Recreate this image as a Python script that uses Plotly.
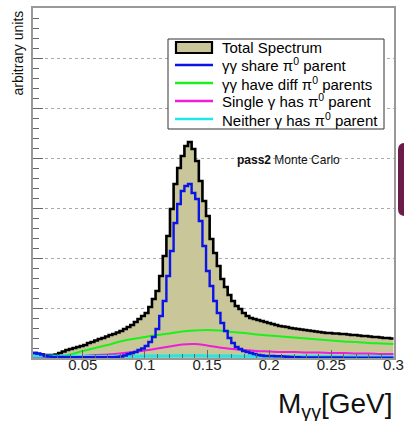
import numpy as np
import plotly.graph_objects as go

# Diphoton invariant mass histogram: 100 bins on [0.01, 0.30] GeV
M_LO, M_HI, N_BINS = 0.01, 0.30, 100

total_spectrum = [
    50, 40, 35, 30, 30, 30, 35, 50, 65, 80,
    90, 100, 110, 120, 130, 150, 160, 175, 190, 200,
    215, 230, 240, 255, 270, 290, 310, 330, 360, 390,
    420, 450, 510, 590, 670, 820, 1020, 1220, 1490, 1740,
    1900, 2020, 2120, 2160, 2090, 1970, 1770, 1570, 1420, 1190,
    1050, 920, 790, 710, 630, 570, 520, 490, 450, 420,
    400, 390, 380, 370, 360, 350, 340, 330, 320, 315,
    310, 300, 295, 290, 285, 280, 275, 270, 265, 260,
    255, 250, 250, 245, 245, 240, 240, 235, 230, 230,
    225, 220, 220, 215, 210, 210, 205, 200, 200, 195,
]

share_pi0_parent = [
    50, 45, 35, 20, 15, 10, 10, 10, 10, 10,
    8, 8, 8, 8, 8, 8, 8, 8, 8, 8,
    8, 8, 8, 10, 15, 25, 40, 50, 60, 80,
    95, 120, 160, 210, 290, 420, 570, 820, 1070, 1350,
    1540, 1670, 1720, 1740, 1650, 1590, 1370, 1120, 870, 720,
    570, 450, 350, 270, 200, 150, 110, 90, 70, 60,
    50, 40, 30, 25, 20, 20, 20, 18, 18, 15,
    12, 10, 8, 8, 6, 6, 6, 5, 5, 5,
    5, 5, 5, 5, 5, 5, 4, 4, 4, 4,
    4, 4, 4, 4, 3, 3, 3, 3, 3, 3,
]

# Background components, sampled every 10 MeV
m_sample = [0.01, 0.02, 0.03, 0.04, 0.05, 0.06, 0.07, 0.08, 0.09, 0.10,
            0.11, 0.12, 0.13, 0.14, 0.15, 0.16, 0.17, 0.18, 0.19, 0.20,
            0.21, 0.22, 0.23, 0.24, 0.25, 0.26, 0.27, 0.28, 0.29, 0.30]
diff_pi0_parents = [0, 5, 15, 35, 70, 100, 130, 165, 190, 210,
                    230, 245, 265, 275, 280, 275, 260, 250, 235, 225,
                    215, 205, 195, 185, 175, 165, 160, 150, 145, 140]
single_gamma_pi0 = [5, 5, 10, 15, 20, 30, 35, 45, 60, 75,
                    95, 115, 135, 140, 125, 105, 90, 80, 70, 65,
                    60, 60, 55, 55, 50, 50, 45, 45, 40, 40]
neither_gamma_pi0 = [20, 20, 18, 17, 16, 16, 16, 17, 18, 19,
                     20, 21, 22, 22, 21, 20, 19, 18, 17, 16,
                     16, 15, 15, 14, 14, 13, 13, 12, 12, 12]

x_tick_vals = [0.05, 0.10, 0.15, 0.20, 0.25, 0.30]
x_tick_text = ["0.05", "0.1", "0.15", "0.2", "0.25", "0.3"]

legend_labels = [
    "Total Spectrum",
    "γγ share π<sup>0</sup> parent",
    "γγ have diff π<sup>0</sup> parents",
    "Single γ has π<sup>0</sup> parent",
    "Neither γ has π<sup>0</sup> parent",
]

FILL = "#c9c799"
C_TOTAL, C_SHARE, C_DIFF, C_SINGLE, C_NEITHER = "#000000", "#0a14e6", "#1cf01c", "#f01cd8", "#1ce8e8"
FONT = "Liberation Sans, Arial, sans-serif"

# Figure geometry (pixels)
W, H = 404, 421
ML, MR, MT, MB = 33, 10, 8, 63
PW, PH = W - ML - MR, H - MT - MB


def fx(px):
    return (px - ML) / PW


def fy(py):
    return (H - MB - py) / PH


edges = np.linspace(M_LO, M_HI, N_BINS + 1)


def step_y(vals):
    return list(vals) + [vals[-1]]


fig = go.Figure()

fig.add_trace(go.Scatter(
    x=edges, y=step_y(total_spectrum), mode="lines", line_shape="hv",
    fill="tozeroy", fillcolor=FILL, line=dict(color=C_TOTAL, width=2.6),
    showlegend=False, hoverinfo="skip"))

for vals, col, w in [(diff_pi0_parents, C_DIFF, 2.0),
                     (single_gamma_pi0, C_SINGLE, 2.0),
                     (neither_gamma_pi0, C_NEITHER, 3.0)]:
    fig.add_trace(go.Scatter(
        x=m_sample, y=vals, mode="lines", line_shape="spline",
        line=dict(color=col, width=w), showlegend=False, hoverinfo="skip"))

fig.add_trace(go.Scatter(
    x=edges, y=step_y(share_pi0_parent), mode="lines", line_shape="hv",
    line=dict(color=C_SHARE, width=2.4), showlegend=False, hoverinfo="skip"))

shapes = []
annotations = []

# Legend box
shapes.append(dict(type="rect", xref="paper", yref="paper",
                   x0=fx(168), x1=fx(384), y0=fy(129), y1=fy(39),
                   line=dict(color="#333", width=1), fillcolor="white"))
row_y = [47, 65, 83, 101, 119]
shapes.append(dict(type="rect", xref="paper", yref="paper",
                   x0=fx(176), x1=fx(212), y0=fy(53), y1=fy(42),
                   line=dict(color="black", width=2.2), fillcolor=FILL))
for yy, col in zip(row_y[1:], [C_SHARE, C_DIFF, C_SINGLE, C_NEITHER]):
    shapes.append(dict(type="line", xref="paper", yref="paper",
                       x0=fx(175), x1=fx(213), y0=fy(yy), y1=fy(yy),
                       line=dict(color=col, width=2.4)))
for yy, txt in zip(row_y, legend_labels):
    annotations.append(dict(xref="paper", yref="paper", x=fx(220), y=fy(yy),
                            xanchor="left", yanchor="middle", text=txt, showarrow=False,
                            font=dict(family=FONT, size=15, color="black")))

# Side decoration (rounded tab at the right edge)
x0, x1, y0, y1, r = 398, 420, 143, 216, 7
shapes.append(dict(
    type="path", xref="paper", yref="paper", line=dict(width=0), fillcolor="#6c1c48",
    path=(f"M {fx(x1)},{fy(y0)} L {fx(x0 + r)},{fy(y0)} "
          f"Q {fx(x0)},{fy(y0)} {fx(x0)},{fy(y0 + r)} "
          f"L {fx(x0)},{fy(y1 - r)} Q {fx(x0)},{fy(y1)} {fx(x0 + r)},{fy(y1)} "
          f"L {fx(x1)},{fy(y1)} Z")))

annotations.append(dict(xref="paper", yref="paper", x=fx(235), y=fy(160),
                        xanchor="left", yanchor="middle", showarrow=False,
                        text="<b>pass2</b> Monte Carlo",
                        font=dict(family=FONT, size=12, color="#111")))
annotations.append(dict(xref="paper", yref="paper", x=fx(395), y=fy(405),
                        xanchor="right", yanchor="middle", showarrow=False,
                        text="M<sub>γγ</sub>[GeV]",
                        font=dict(family=FONT, size=28, color="#111")))
annotations.append(dict(xref="paper", yref="paper", x=fx(17), y=fy(9),
                        xanchor="center", yanchor="top", showarrow=False,
                        textangle=-90, text="arbitrary units",
                        font=dict(family=FONT, size=14, color="#111")))

fig.update_layout(
    width=W, height=H, margin=dict(l=ML, r=MR, t=MT, b=MB),
    paper_bgcolor="white", plot_bgcolor="white",
    shapes=shapes, annotations=annotations, showlegend=False,
    xaxis=dict(range=[M_LO, M_HI + 0.0004], tickmode="array", tickvals=x_tick_vals,
               ticktext=x_tick_text, ticks="inside", ticklen=8, tickwidth=1,
               tickcolor="#666", showgrid=False, zeroline=False, automargin=False,
               showline=True, linecolor="#999", linewidth=1.5, mirror=True,
               ticklabelstandoff=-8,
               tickfont=dict(family=FONT, size=15, color="#222"),
               minor=dict(tickmode="linear", tick0=0, dtick=0.01, ticks="inside",
                          ticklen=4, tickcolor="#666", showgrid=False)),
    yaxis=dict(range=[0, 3500], tickmode="linear", tick0=0, dtick=500,
               showticklabels=False, ticks="inside", ticklen=10, tickwidth=1,
               tickcolor="#666", showgrid=True, gridcolor="#aaa", griddash="dot",
               gridwidth=1, zeroline=False, showline=True, linecolor="#999",
               linewidth=1.5, mirror=True, automargin=False,
               minor=dict(tickmode="linear", tick0=0, dtick=100, ticks="inside",
                          ticklen=6, tickcolor="#666", showgrid=False)),
)

fig.write_html("out.html")
